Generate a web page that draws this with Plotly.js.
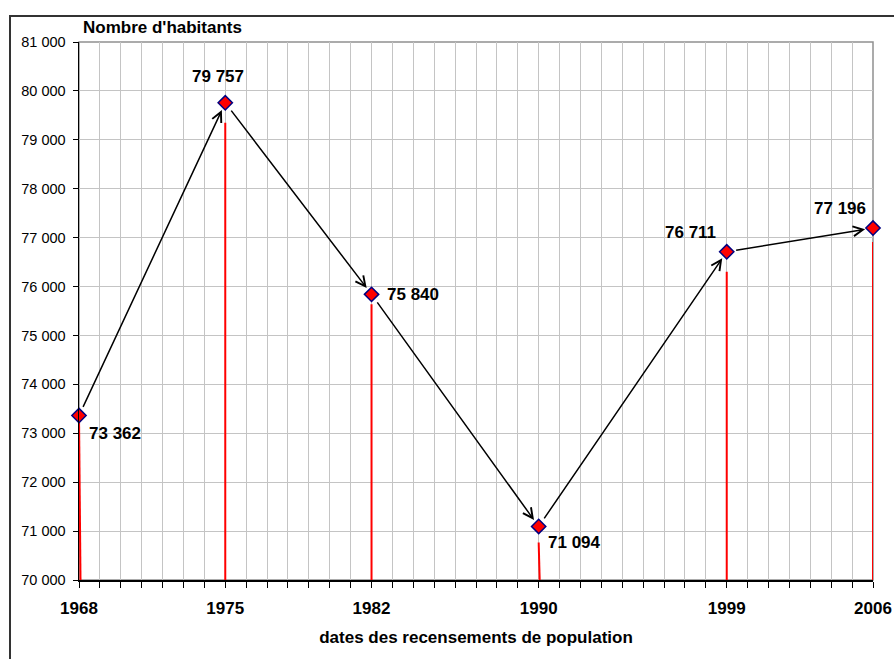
<!DOCTYPE html>
<html>
<head>
<meta charset="utf-8">
<script src="https://cdn.plot.ly/plotly-3.0.1.min.js"></script>
<style>
html,body{margin:0;padding:0;background:#fff;}
#chart{width:894px;height:659px;}
</style>
</head>
<body>
<div id="chart"></div>
<script>
// ---- data ----
const years = [1968, 1975, 1982, 1990, 1999, 2006];
const population = [73362, 79757, 75840, 71094, 76711, 77196];
const yTicks = [70000, 71000, 72000, 73000, 74000, 75000, 76000, 77000, 78000, 79000, 80000, 81000];
const yTickLabels = ["70 000", "71 000", "72 000", "73 000", "74 000", "75 000", "76 000", "77 000", "78 000", "79 000", "80 000", "81 000"];
const yTitle = "Nombre d'habitants";
const xTitle = "dates des recensements de population";

// ---- styling helpers (not data) ----
const Y0 = 70000, Y1 = 81000, X0 = 1968, X1 = 2006;
const plotW = 794, plotH = 538;
const unitsPerPx = (Y1 - Y0) / plotH;
const yrPerPx = (X1 - X0) / plotW;
const dropGapPx = [0, 20, 10, 16, 20, 14];
const dropSlantPx = [1.5, 0, 0, 1, 0, 0];
const labelStyle = [
  {xanchor: 'left', yanchor: 'middle', xshift: 8, yshift: -18},
  {xanchor: 'center', yanchor: 'middle', xshift: -7, yshift: 26},
  {xanchor: 'left', yanchor: 'middle', xshift: 13, yshift: 0},
  {xanchor: 'left', yanchor: 'middle', xshift: 7, yshift: -16},
  {xanchor: 'right', yanchor: 'middle', xshift: -9, yshift: 19},
  {xanchor: 'right', yanchor: 'middle', xshift: -5, yshift: 20}
];

function fmt(v) {
  return String(v).replace(/\B(?=(\d{3})+(?!\d))/g, ' ');
}

const FONT = 'Liberation Sans, Arial, sans-serif';

// every year tick, labels only at census years
const allYears = [];
for (let y = X0; y <= X1; y++) allYears.push(y);
const allYearLabels = allYears.map(y => years.includes(y) ? String(y) : '');

const traces = [];
// drop lines
years.forEach((yr, i) => {
  traces.push({
    type: 'scatter', mode: 'lines',
    x: [yr, yr + dropSlantPx[i] * yrPerPx],
    y: [population[i] - dropGapPx[i] * unitsPerPx, Y0],
    line: {color: '#ff0000', width: 2},
    hoverinfo: 'skip', showlegend: false, cliponaxis: false
  });
});
// markers
traces.push({
  type: 'scatter', mode: 'markers',
  x: years, y: population,
  marker: {symbol: 'diamond', size: 11, color: '#ff0000', line: {color: '#000080', width: 1.5}},
  cliponaxis: false, showlegend: false
});

const annotations = [];
// arrows between consecutive points
for (let i = 0; i < years.length - 1; i++) {
  annotations.push({
    x: years[i + 1], y: population[i + 1], xref: 'x', yref: 'y',
    ax: years[i], ay: population[i], axref: 'x', ayref: 'y',
    text: '', showarrow: true, arrowhead: 5, arrowsize: 1.3, arrowwidth: 1.5,
    arrowcolor: '#000000', standoff: 8, startstandoff: 8
  });
}
// value labels
years.forEach((yr, i) => {
  annotations.push(Object.assign({
    x: yr, y: population[i], xref: 'x', yref: 'y',
    text: '<b>' + fmt(population[i]) + '</b>', showarrow: false,
    font: {family: FONT, size: 17, color: '#000'}
  }, labelStyle[i]));
});
// y title (top-left)
annotations.push({
  x: 0, y: 1, xref: 'paper', yref: 'paper', xanchor: 'left', yanchor: 'bottom',
  xshift: 2, yshift: 3,
  text: '<b>' + yTitle + '</b>', showarrow: false,
  font: {family: FONT, size: 17, color: '#000'}
});

const layout = {
  width: 894, height: 659,
  margin: {l: 79, r: 21, t: 42, b: 79, pad: 0},
  paper_bgcolor: '#ffffff', plot_bgcolor: '#ffffff',
  showlegend: false,
  font: {family: FONT, color: '#000'},
  xaxis: {
    range: [X0, X1], tickmode: 'array', tickvals: allYears, ticktext: allYearLabels,
    showgrid: true, gridcolor: '#c4c4c4', gridwidth: 1,
    showline: true, linecolor: '#000', linewidth: 1.5,
    ticks: 'outside', ticklen: 6, tickcolor: '#000', tickwidth: 1,
    ticklabelstandoff: 6,
    tickfont: {family: FONT, size: 17, color: '#000', weight: 'bold'},
    zeroline: false, fixedrange: true,
    title: {text: '<b>' + xTitle + '</b>', font: {family: FONT, size: 17, color: '#000'}, standoff: 14}
  },
  yaxis: {
    range: [Y0, Y1], tickmode: 'array', tickvals: yTicks, ticktext: yTickLabels,
    showgrid: true, gridcolor: '#c4c4c4', gridwidth: 1,
    showline: true, linecolor: '#000', linewidth: 1.5,
    ticks: 'outside', ticklen: 5, tickcolor: '#000', tickwidth: 1,
    ticklabelstandoff: 4,
    tickfont: {family: FONT, size: 14.5, color: '#000'},
    zeroline: false, fixedrange: true
  },
  shapes: [
    // plot-area border (gray, top/right visible)
    {type: 'rect', xref: 'paper', yref: 'paper', x0: 0, x1: 1, y0: 0, y1: 1,
     line: {color: '#909090', width: 1.5}, layer: 'below'},
    // outer chart frame
    {type: 'rect', xref: 'paper', yref: 'paper',
     x0: (10 - 79) / plotW, x1: (905 - 79) / plotW,
     y0: (580 - 680) / plotH, y1: (580 - 16) / plotH,
     line: {color: '#333333', width: 2}, layer: 'below'}
  ],
  annotations: annotations
};

Plotly.newPlot('chart', traces, layout, {displayModeBar: false, staticPlot: true});
</script>
</body>
</html>
